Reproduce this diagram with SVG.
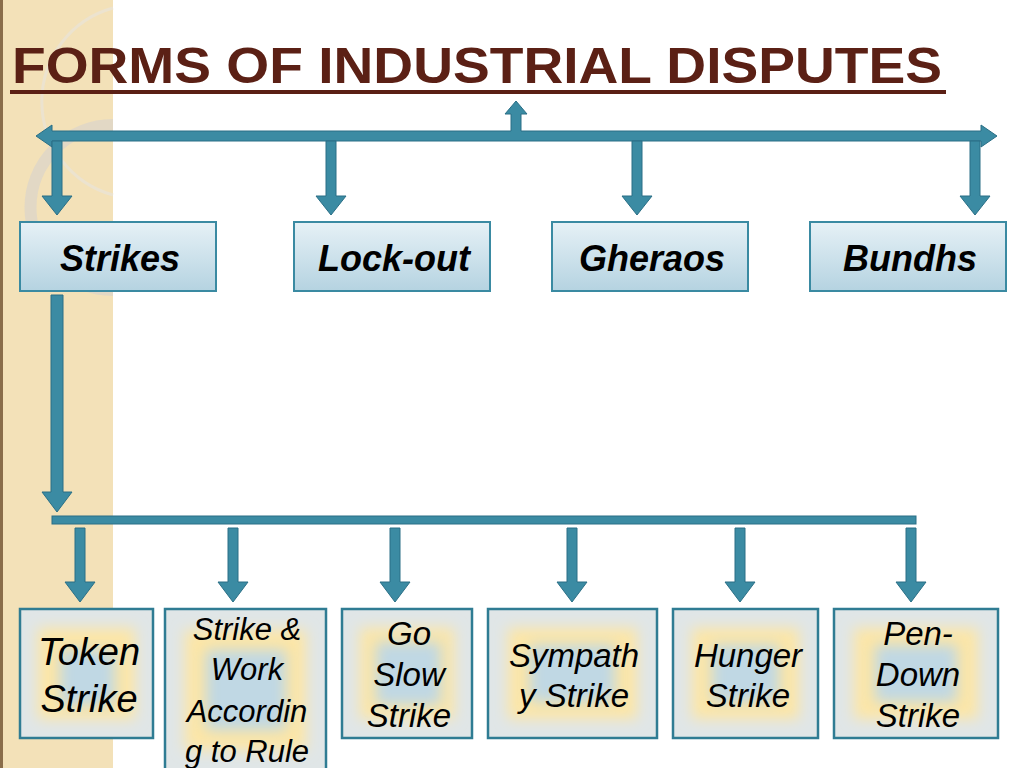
<svg xmlns="http://www.w3.org/2000/svg" width="1024" height="768" viewBox="0 0 1024 768">
<defs>
<linearGradient id="tg" x1="0" y1="0" x2="0" y2="1"><stop offset="0" stop-color="#e6f1f6"/><stop offset="1" stop-color="#b5d3e1"/></linearGradient>
<filter id="bl" x="-20%" y="-20%" width="140%" height="140%"><feGaussianBlur stdDeviation="7"/></filter>
<style>
.ar{fill:#3b8ba3;stroke:#2a6f86;stroke-width:1}
.tb{fill:url(#tg);stroke:#3a8aa2;stroke-width:2}
.bb{fill:#e0e6e7}
.bo{fill:none;stroke:#2f7c93;stroke-width:2.5}
.y{fill:#fde6a6;filter:url(#bl)}
.b{fill:#c0d8e4;filter:url(#bl)}
.tt{font-family:"Liberation Sans",Arial,sans-serif;font-weight:bold;font-style:italic;font-size:36px;fill:#000;text-anchor:middle}
.bt{font-family:"Liberation Sans",Arial,sans-serif;font-style:italic;font-size:33px;fill:#000;text-anchor:middle}
.bt2{font-family:"Liberation Sans",Arial,sans-serif;font-style:italic;font-size:31px;fill:#000;text-anchor:middle}
.big{font-family:"Liberation Sans",Arial,sans-serif;font-style:italic;font-size:38px;fill:#000;text-anchor:middle}
</style>
</defs>
<rect width="1024" height="768" fill="#fff"/>
<rect x="0" y="0" width="113" height="768" fill="#f3e1b8"/>
<rect x="0" y="0" width="3" height="768" fill="#8a6d4a"/>
<path d="M113,8 A97,97 0 0 0 113,195" fill="none" stroke="#ece3cf" stroke-width="3"/>
<path d="M113,125 A75,75 0 0 0 113,290" fill="none" stroke="#ddd6c8" stroke-width="12" opacity="0.8"/>
<text x="12" y="83" font-family="Liberation Sans,Arial,sans-serif" font-weight="bold" font-size="50" textLength="930" lengthAdjust="spacingAndGlyphs" fill="#5b2015">FORMS OF INDUSTRIAL DISPUTES</text>
<rect x="10" y="90" width="936" height="4" fill="#5b2015"/>
<g id="connectors">
<path class="ar" d="M36,136 L52,125 L52,131 L511,131 L511,114 L505,114 L516,101 L527,114 L521,114 L521,131 L981,131 L981,125 L997,136 L981,147 L981,141 L52,141 L52,147 Z"/>
<path class="ar" d="M52,141 h10 v55 h10 l-15,19 l-15,-19 h10 z"/>
<path class="ar" d="M326,141 h10 v55 h10 l-15,19 l-15,-19 h10 z"/>
<path class="ar" d="M632,141 h10 v55 h10 l-15,19 l-15,-19 h10 z"/>
<path class="ar" d="M970,141 h10 v55 h10 l-15,19 l-15,-19 h10 z"/>
<path class="ar" d="M51,295 h12 v197 h9 l-15,20 l-15,-20 h9 z"/>
<rect class="ar" x="52" y="516" width="864" height="8"/>
<path class="ar" d="M75,528 h10 v54 h10 l-15,20 l-15,-20 h10 z"/>
<path class="ar" d="M228,528 h10 v54 h10 l-15,20 l-15,-20 h10 z"/>
<path class="ar" d="M390,528 h10 v54 h10 l-15,20 l-15,-20 h10 z"/>
<path class="ar" d="M567,528 h10 v54 h10 l-15,20 l-15,-20 h10 z"/>
<path class="ar" d="M735,528 h10 v54 h10 l-15,20 l-15,-20 h10 z"/>
<path class="ar" d="M906,528 h10 v54 h10 l-15,20 l-15,-20 h10 z"/>
</g>
<g id="strikes"><rect class="tb" x="20" y="222" width="196" height="69"/><text class="tt" x="120" y="271">Strikes</text></g>
<g id="lockout"><rect class="tb" x="294" y="222" width="196" height="69"/><text class="tt" x="394" y="271">Lock-out</text></g>
<g id="gheraos"><rect class="tb" x="552" y="222" width="196" height="69"/><text class="tt" x="652" y="271">Gheraos</text></g>
<g id="bundhs"><rect class="tb" x="810" y="222" width="196" height="69"/><text class="tt" x="910" y="271">Bundhs</text></g>
<g id="token"><rect class="bb" x="20" y="609" width="133" height="129"/><rect class="y" x="38" y="628" width="97" height="91"/><rect class="b" x="60" y="650" width="55" height="55"/><rect class="bo" x="20" y="609" width="133" height="129"/><text class="big" x="89" y="665">Token</text><text class="big" x="89" y="712">Strike</text></g>
<g id="work"><rect class="bb" x="165" y="609" width="161" height="159"/><rect class="y" x="185" y="630" width="121" height="120"/><rect class="b" x="206" y="650" width="80" height="80"/><rect class="bo" x="165" y="609" width="161" height="170"/><text class="bt2" x="247" y="640">Strike &amp;</text><text class="bt2" x="247" y="680">Work</text><text class="bt2" x="247" y="722">Accordin</text><text class="bt2" x="247" y="762">g to Rule</text></g>
<g id="goslow"><rect class="bb" x="342" y="609" width="130" height="129"/><rect class="y" x="360" y="628" width="94" height="91"/><rect class="b" x="376" y="642" width="65" height="63"/><rect class="bo" x="342" y="609" width="130" height="129"/><text class="bt" x="409" y="645">Go</text><text class="bt" x="409" y="686">Slow</text><text class="bt" x="409" y="727">Strike</text></g>
<g id="sympathy"><rect class="bb" x="488" y="609" width="169" height="129"/><rect class="y" x="508" y="628" width="129" height="91"/><rect class="b" x="530" y="645" width="85" height="57"/><rect class="bo" x="488" y="609" width="169" height="129"/><text class="bt" x="574" y="667">Sympath</text><text class="bt" x="574" y="707">y Strike</text></g>
<g id="hunger"><rect class="bb" x="673" y="609" width="145" height="129"/><rect class="y" x="692" y="628" width="107" height="91"/><rect class="b" x="712" y="645" width="67" height="57"/><rect class="bo" x="673" y="609" width="145" height="129"/><text class="bt" x="748" y="667">Hunger</text><text class="bt" x="748" y="707">Strike</text></g>
<g id="pendown"><rect class="bb" x="834" y="609" width="164" height="129"/><rect class="y" x="854" y="628" width="124" height="91"/><rect class="b" x="875" y="645" width="82" height="57"/><rect class="bo" x="834" y="609" width="164" height="129"/><text class="bt" x="918" y="645">Pen-</text><text class="bt" x="918" y="686">Down</text><text class="bt" x="918" y="727">Strike</text></g>
</svg>
